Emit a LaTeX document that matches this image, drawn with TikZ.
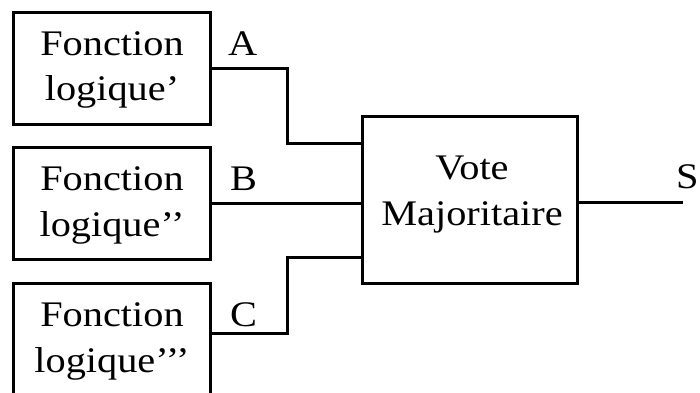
\documentclass[tikz,border=0pt]{standalone}
\usepackage{fontspec}
\setmainfont[FakeStretch=1.12]{Liberation Serif}
\newcommand{\apos}{\char"2019{}}
\begin{document}
\begin{tikzpicture}[x=1pt,y=-1pt,
  every node/.style={inner sep=0pt,outer sep=0pt},
  block/.style={draw,line width=3pt,rectangle,minimum width=197pt,minimum height=112pt},
  voter/.style={draw,line width=3pt,rectangle,minimum width=215pt,minimum height=167pt},
  txt/.style={font=\fontsize{36}{46}\selectfont,anchor=base},
  lbl/.style={font=\fontsize{36}{46}\selectfont,anchor=base west},
  wire/.style={line width=3pt,line cap=rect}]
\clip (0,0) rectangle (700,392);

% three logic-function blocks
\node[block] (b1) at (111.5,68) {};
\node[block] (b2) at (111.5,203) {};
\node[block] (b3) at (111.5,339) {};
\node[txt] (t1a) at (112,55) {Fonction};
\node[txt] (t1b) at (112,100) {logique\apos};
\node[txt] (t2a) at (112,190) {Fonction};
\node[txt] (t2b) at (112,236) {logique\apos\apos};
\node[txt] (t3a) at (112,326) {Fonction};
\node[txt] (t3b) at (112,372) {logique\apos\apos\apos};

% majority voter
\node[voter] (vote) at (469.5,199.5) {};
\node[txt] (v1) at (472,179) {Vote};
\node[txt] (v2) at (472,225) {Majoritaire};

% signal names
\node[lbl] (la) at (228,55) {A};
\node[lbl] (lb) at (230,190) {B};
\node[lbl] (lc) at (230,326) {C};
\node[lbl] (ls) at (676,188) {S};

% voter inputs and output
\coordinate (inA) at ([yshift=56.5pt]vote.west);
\coordinate (inB) at ([yshift=-3.5pt]vote.west);
\coordinate (inC) at ([yshift=-57.5pt]vote.west);
\coordinate (outS) at ([yshift=-2.5pt]vote.east);
\coordinate (endS) at (681,202);
\coordinate (srcC) at ([yshift=6pt]b3.east);

\draw[wire] (b1.east) -- ++(77,0) |- (inA);
\draw[wire] (b2.east) -- (inB);
\draw[wire] (srcC) -- ++(77,0) |- (inC);
\draw[wire] (outS) -- (endS);
\end{tikzpicture}
\end{document}
